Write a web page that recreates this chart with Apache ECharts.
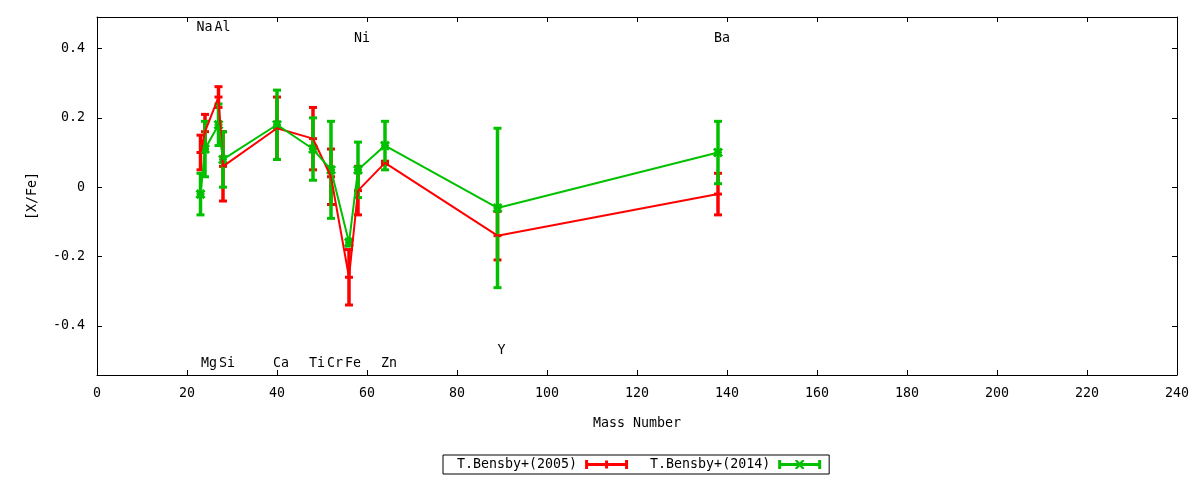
<!DOCTYPE html>
<html>
<head>
<meta charset="utf-8">
<script src="https://cdn.jsdelivr.net/npm/echarts@6/dist/echarts.min.js"></script>
<style>html,body{margin:0;padding:0;background:#fff}#c{width:1200px;height:480px}</style>
</head>
<body>
<div id="c"></div>
<script>
// ---- data ----
const elements = ['Na','Mg','Al','Si','Ca','Ti','Cr','Fe','Ni','Zn','Y','Ba'];
const mass = [23, 24, 27, 28, 40, 48, 52, 56, 58, 64, 89, 138];
const bensby2005 = [0.10, 0.16, 0.26, 0.06, 0.17, 0.14, 0.03, -0.26, -0.01, 0.07, -0.14, -0.02];
const err2005    = [0.05, 0.05, 0.03, 0.10, 0.09, 0.09, 0.08, 0.08, 0.07, 0.005, 0.07, 0.06];
const bensby2014 = [-0.02, 0.11, 0.18, 0.08, 0.18, 0.11, 0.05, -0.16, 0.05, 0.12, -0.06, 0.10];
const err2014    = [0.06, 0.08, 0.06, 0.08, 0.10, 0.09, 0.14, 0.01, 0.08, 0.07, 0.23, 0.09];
const labelY = [0.46, -0.51, 0.46, -0.51, -0.51, -0.51, -0.51, -0.51, 0.43, -0.51, -0.47, 0.43];
const yTicks = [-0.4, -0.2, 0, 0.2, 0.4];
const seriesNames = ['T.Bensby+(2005)', 'T.Bensby+(2014)'];

const FONT = 'DejaVu Sans Mono';
const FS = 13.3;
const RED = '#ff0000';
const GREEN = '#00c000';

function errSeries(name, vals, errs, color, marker) {
  return {
    name: name, type: 'custom', color: color,
    xAxisIndex: 0, yAxisIndex: 0,
    data: mass.map((m, i) => [m, vals[i], errs[i]]),
    encode: { x: 0, y: 1 },
    renderItem: function (params, api) {
      const x = api.value(0), y = api.value(1), e = api.value(2);
      const top = api.coord([x, y + e]);
      const bot = api.coord([x, y - e]);
      const mid = api.coord([x, y]);
      const cw = 4;
      const capStyle = () => ({ stroke: color, lineWidth: 3 });
      const children = [
        { type: 'line', shape: { x1: top[0], y1: top[1], x2: bot[0], y2: bot[1] }, style: { stroke: color, lineWidth: 3.5 } },
        { type: 'line', shape: { x1: top[0] - cw, y1: top[1], x2: top[0] + cw, y2: top[1] }, style: capStyle() },
        { type: 'line', shape: { x1: bot[0] - cw, y1: bot[1], x2: bot[0] + cw, y2: bot[1] }, style: capStyle() }
      ];
      if (marker === 'dash') {
        children.push({ type: 'line', shape: { x1: mid[0] - cw, y1: mid[1], x2: mid[0] + cw, y2: mid[1] }, style: capStyle() });
      } else {
        const s = 4;
        children.push({ type: 'line', shape: { x1: mid[0] - s, y1: mid[1] - s, x2: mid[0] + s, y2: mid[1] + s }, style: { stroke: color, lineWidth: 3 } });
        children.push({ type: 'line', shape: { x1: mid[0] - s, y1: mid[1] + s, x2: mid[0] + s, y2: mid[1] - s }, style: { stroke: color, lineWidth: 3 } });
        children.push({ type: 'line', shape: { x1: mid[0] - s, y1: mid[1], x2: mid[0] + s, y2: mid[1] }, style: { stroke: color, lineWidth: 2 } });
      }
      return { type: 'group', children: children };
    }
  };
}

function lineSeries(name, vals, color) {
  return {
    name: name, type: 'line', color: color,
    xAxisIndex: 0, yAxisIndex: 0,
    data: mass.map((m, i) => [m, vals[i]]),
    symbol: 'none', silent: true,
    lineStyle: { color: color, width: 2 },
    itemStyle: { color: color }
  };
}

const labelSeries = {
  type: 'custom', silent: true,
  xAxisIndex: 0, yAxisIndex: 0,
  data: mass.map((m, i) => [m, labelY[i], i]),
  renderItem: function (params, api) {
    const p = api.coord([api.value(0), api.value(1)]);
    return {
      type: 'text', x: p[0] + 4, y: p[1],
      style: {
        text: elements[api.value(2)], fill: '#000',
        font: FS + 'px "' + FONT + '"',
        align: 'center', verticalAlign: 'middle',
        textAlign: 'center', textVerticalAlign: 'middle'
      }
    };
  }
};

const iconRed = 'path://M0,0H3V3H40V0H43V9H40V6H3V9H0Z M20,0.5H23V8.5H20Z';
const iconGreen = 'path://M0,0H3V3H40V0H43V9H40V6H3V9H0Z M17,0L19,0L21.5,2.5L24,0L26,0L26,1L23,4.5L26,8L26,9L24,9L21.5,6.5L19,9L17,9L17,8L20,4.5L17,1Z';

function axisLine() { return { show: true, onZero: false, lineStyle: { color: '#000', width: 1 } }; }
function axisTick(custom) {
  const t = { show: true, inside: true, length: 5, lineStyle: { color: '#000', width: 1 } };
  if (custom) t.customValues = custom;
  return t;
}

const option = {
  animation: false,
  backgroundColor: '#fff',
  grid: { left: 97, right: 23, top: 17, bottom: 105 },
  xAxis: [
    {
      type: 'value', position: 'bottom', min: 0, max: 240, interval: 20,
      axisLine: axisLine(), axisTick: axisTick(), splitLine: { show: false },
      axisLabel: { show: true, margin: 12, color: '#000', fontFamily: FONT, fontSize: FS },
      name: 'Mass Number', nameLocation: 'middle', nameGap: 42,
      nameTextStyle: { color: '#000', fontFamily: FONT, fontSize: FS }
    },
    {
      type: 'value', position: 'top', min: 0, max: 240, interval: 20,
      axisLine: axisLine(), axisTick: axisTick(), splitLine: { show: false },
      axisLabel: { show: false }
    }
  ],
  yAxis: [
    {
      type: 'value', position: 'left', min: -0.542, max: 0.491,
      axisLine: axisLine(), axisTick: axisTick(yTicks), splitLine: { show: false },
      axisLabel: { show: true, margin: 12, color: '#000', fontFamily: FONT, fontSize: FS, customValues: yTicks,
        formatter: v => (Math.abs(v) < 1e-9 ? '0' : v.toFixed(1)) },
      name: '[X/Fe]', nameLocation: 'middle', nameGap: 58, nameRotate: 90,
      nameTextStyle: { color: '#000', fontFamily: FONT, fontSize: FS }
    },
    {
      type: 'value', position: 'right', min: -0.542, max: 0.491,
      axisLine: axisLine(), axisTick: axisTick(yTicks), splitLine: { show: false },
      axisLabel: { show: false }
    }
  ],
  legend: {
    left: 443, top: 455,
    orient: 'horizontal', align: 'right',
    itemWidth: 43, itemHeight: 9, itemGap: 22,
    padding: [3, 8, 3, 14],
    borderColor: '#000', borderWidth: 1, borderRadius: 0,
    selectedMode: false,
    itemStyle: { borderWidth: 0 },
    textStyle: { color: '#000', fontFamily: FONT, fontSize: FS, padding: [0, 3, 0, 0] },
    data: [
      { name: seriesNames[0], icon: iconRed },
      { name: seriesNames[1], icon: iconGreen }
    ]
  },
  series: [
    lineSeries(seriesNames[0], bensby2005, RED),
    errSeries(seriesNames[0], bensby2005, err2005, RED, 'dash'),
    lineSeries(seriesNames[1], bensby2014, GREEN),
    errSeries(seriesNames[1], bensby2014, err2014, GREEN, 'x'),
    labelSeries
  ]
};

const chart = echarts.init(document.getElementById('c'));
chart.setOption(option);
</script>
</body>
</html>
